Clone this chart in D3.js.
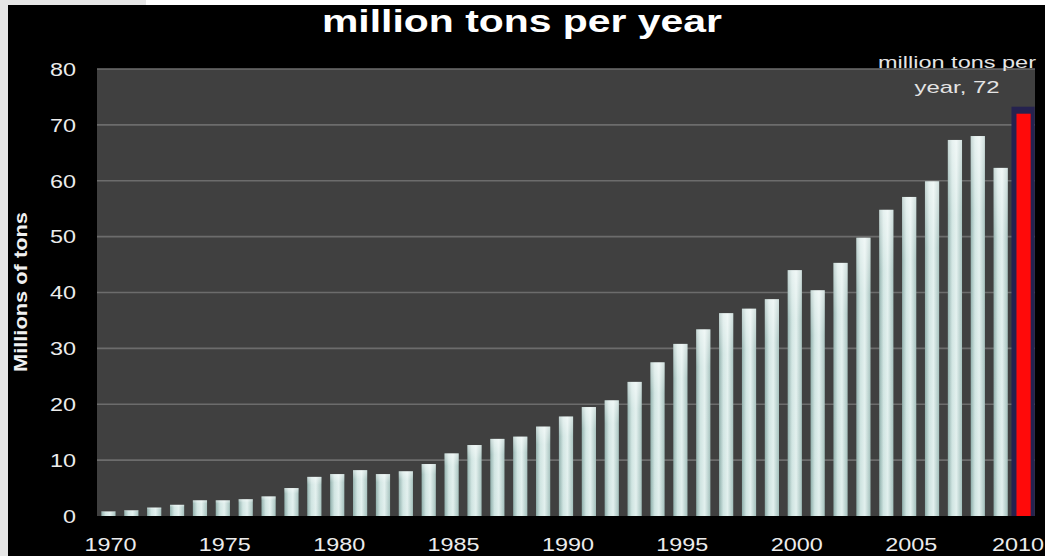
<!DOCTYPE html>
<html>
<head>
<meta charset="utf-8">
<script src="https://cdn.jsdelivr.net/npm/d3@7"></script>
<style>
  html, body { margin: 0; padding: 0; background: #ffffff; }
  svg { display: block; }
  text { font-family: Arial, "Liberation Sans", sans-serif; }
</style>
</head>
<body>
<svg id="chart" width="1045" height="556"></svg>
<script>
// ---- data ----
const years = d3.range(1970, 2011);
const values = [0.8, 1.0, 1.5, 2.0, 2.8, 2.8, 3.0, 3.5, 5.0, 7.0,
                7.5, 8.2, 7.5, 8.0, 9.3, 11.2, 12.7, 13.8, 14.2, 16.0,
                17.8, 19.5, 20.7, 24.0, 27.5, 30.8, 33.4, 36.3, 37.1, 38.8,
                44.0, 40.4, 45.3, 49.8, 54.8, 57.1, 59.9, 67.3, 68.0, 62.3,
                72];
const yTicks = [0, 10, 20, 30, 40, 50, 60, 70, 80];
const xTickYears = [1970, 1975, 1980, 1985, 1990, 1995, 2000, 2005, 2010];
const titleText = "million tons per year";
const yAxisTitle = "Millions of tons";
const highlightYear = 2010;
const annotationLines = ["million tons per", "year, 72"];

const data = years.map((y, i) => ({ year: y, value: values[i] }));

// ---- layout ----
const W = 1045, H = 556;
const plot = { left: 97, right: 1035, top: 69, bottom: 516 };

const svg = d3.select("#chart");

// backgrounds
svg.append("rect").attr("x", 0).attr("y", 0).attr("width", W).attr("height", H).attr("fill", "#ffffff");
svg.append("rect").attr("x", 0).attr("y", 0).attr("width", 146).attr("height", 5).attr("fill", "#e6e6e6");
svg.append("rect").attr("x", 0).attr("y", 0).attr("width", 8).attr("height", H).attr("fill", "#e6e6e6");
svg.append("rect").attr("x", 8).attr("y", 5).attr("width", W - 8).attr("height", H - 5).attr("fill", "#000000");

const x = d3.scaleBand()
  .domain(years)
  .range([plot.left, plot.right])
  .paddingInner(0.38)
  .paddingOuter(0.19);

const y = d3.scaleLinear()
  .domain([0, 80])
  .range([plot.bottom, plot.top]);

// plot area
svg.append("rect")
  .attr("x", plot.left).attr("y", plot.top)
  .attr("width", plot.right - plot.left).attr("height", plot.bottom - plot.top)
  .attr("fill", "#404040");

// gradients
const defs = svg.append("defs");
const g1 = defs.append("linearGradient").attr("id", "barGrad")
  .attr("x1", "0%").attr("x2", "100%").attr("y1", "0%").attr("y2", "0%");
g1.append("stop").attr("offset", "0%").attr("stop-color", "#8eaeaa");
g1.append("stop").attr("offset", "30%").attr("stop-color", "#cfe4e1");
g1.append("stop").attr("offset", "60%").attr("stop-color", "#e2f0ee");
g1.append("stop").attr("offset", "100%").attr("stop-color", "#a3c0bc");
const g2 = defs.append("linearGradient").attr("id", "barTop")
  .attr("x1", "0%").attr("x2", "0%").attr("y1", "0%").attr("y2", "100%");
g2.append("stop").attr("offset", "0%").attr("stop-color", "#ffffff").attr("stop-opacity", 0.5);
g2.append("stop").attr("offset", "20%").attr("stop-color", "#ffffff").attr("stop-opacity", 0.08);
g2.append("stop").attr("offset", "100%").attr("stop-color", "#ffffff").attr("stop-opacity", 0);

// gridlines
svg.append("g")
  .selectAll("line")
  .data(yTicks.filter(t => t > 0))
  .join("line")
  .attr("x1", plot.left).attr("x2", plot.right)
  .attr("y1", d => y(d)).attr("y2", d => y(d))
  .attr("stroke", "#6c6c6c").attr("stroke-width", 1.6);

// y tick labels
svg.append("g")
  .selectAll("text")
  .data(yTicks)
  .join("text")
  .attr("x", 76)
  .attr("y", d => y(d))
  .attr("dy", "0.36em")
  .attr("text-anchor", "end")
  .attr("fill", "#ececec")
  .attr("font-size", 19)
  .attr("textLength", d => String(d).length * 13)
  .attr("lengthAdjust", "spacingAndGlyphs")
  .text(d => d);

// y axis title
svg.append("text")
  .attr("transform", `translate(27, 292) rotate(-90)`)
  .attr("text-anchor", "middle")
  .attr("fill", "#f0f0f0")
  .attr("font-size", 18)
  .attr("font-weight", "bold")
  .attr("textLength", 160)
  .attr("lengthAdjust", "spacingAndGlyphs")
  .text(yAxisTitle);

// highlight backdrop for last bar
const hl = data.find(d => d.year === highlightYear);
svg.append("rect")
  .attr("x", x(hl.year) - 5)
  .attr("y", y(hl.value) - 7)
  .attr("width", x.bandwidth() + 9)
  .attr("height", plot.bottom - y(hl.value) + 7)
  .attr("fill", "#25224f");

// bars
const bars = svg.append("g");
bars.selectAll("rect.bar")
  .data(data)
  .join("rect")
  .attr("class", "bar")
  .attr("x", d => x(d.year))
  .attr("y", d => y(d.value))
  .attr("width", x.bandwidth())
  .attr("height", d => y(0) - y(d.value))
  .attr("fill", d => d.year === highlightYear ? "#ff0a0a" : "url(#barGrad)");
bars.selectAll("rect.shine")
  .data(data.filter(d => d.year !== highlightYear))
  .join("rect")
  .attr("class", "shine")
  .attr("x", d => x(d.year))
  .attr("y", d => y(d.value))
  .attr("width", x.bandwidth())
  .attr("height", d => y(0) - y(d.value))
  .attr("fill", "url(#barTop)");

// x tick labels (kept inside the frame)
const xLabW = 52;
svg.append("g")
  .selectAll("text")
  .data(xTickYears)
  .join("text")
  .attr("x", d => Math.min(x(d) + x.bandwidth() / 2 + 2, W - 1 - xLabW / 2))
  .attr("y", 551)
  .attr("text-anchor", "middle")
  .attr("fill", "#ececec")
  .attr("font-size", 18)
  .attr("textLength", xLabW)
  .attr("lengthAdjust", "spacingAndGlyphs")
  .text(d => d);

// title
svg.append("text")
  .attr("x", 522)
  .attr("y", 32)
  .attr("text-anchor", "middle")
  .attr("fill", "#ffffff")
  .attr("font-size", 32)
  .attr("font-weight", "bold")
  .attr("textLength", 400)
  .attr("lengthAdjust", "spacingAndGlyphs")
  .text(titleText);

// annotation label
const ann = svg.append("g");
ann.append("text")
  .attr("x", 957).attr("y", 68)
  .attr("text-anchor", "middle")
  .attr("fill", "#e4e4e4")
  .attr("font-size", 17)
  .attr("textLength", 158)
  .attr("lengthAdjust", "spacingAndGlyphs")
  .text(annotationLines[0]);
ann.append("text")
  .attr("x", 957).attr("y", 93)
  .attr("text-anchor", "middle")
  .attr("fill", "#e4e4e4")
  .attr("font-size", 17)
  .attr("textLength", 85)
  .attr("lengthAdjust", "spacingAndGlyphs")
  .text(annotationLines[1]);
</script>
</body>
</html>
